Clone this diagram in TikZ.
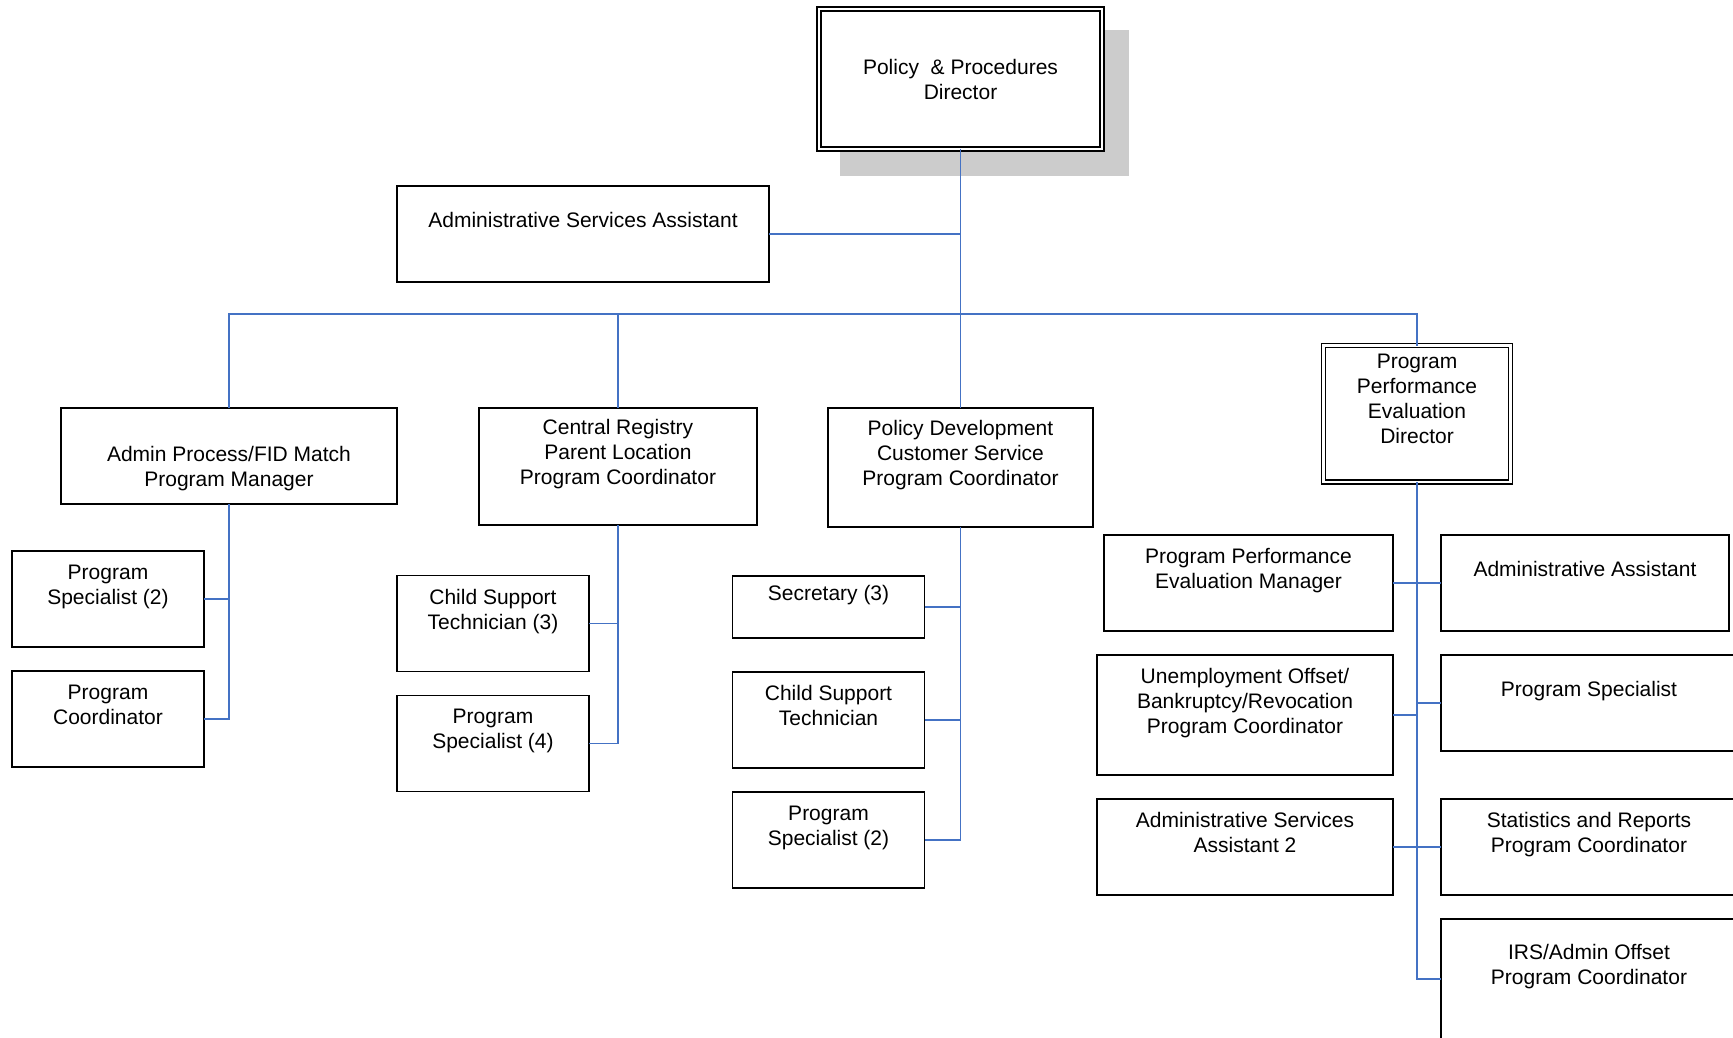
\documentclass[tikz,border=0pt]{standalone}
\usepackage{fontspec}
\setmainfont{Liberation Sans}
\usepackage{tikz}
\usetikzlibrary{positioning, calc, backgrounds}

\definecolor{linkblue}{RGB}{68,114,196}
\definecolor{shadowgray}{RGB}{204,204,204}
\newcommand{\chartfont}{\fontsize{21}{25}\selectfont}

\begin{document}
\begin{tikzpicture}[
      x=1pt, y=-1pt,
      base/.style={rectangle, draw, line width=1.5pt, fill=white, align=center, font=\chartfont,
                   inner sep=4pt, outer sep=0pt, minimum width=192pt, minimum height=96pt},
      box/.style ={base, execute at end node={\rule[-29pt]{0pt}{29pt}}},
      dbl/.style ={double, double distance=2.5pt},
      link/.style={draw=linkblue, line width=1.5pt},
      node distance=24pt and 48pt
    ]
    \useasboundingbox (0,0) rectangle (1733,1037);
    \clip (0,0) rectangle (1733,1037);

    % Ledelse
    \node[base, dbl, minimum width=283pt, minimum height=140pt] (PPD) at (960.5,79) {Policy\ \ \& Procedures\\Director};
    \node[box, minimum width=372pt] (ASA) at (583,234) {Administrative Services Assistant};

    % Andre nivaa
    \node[base, minimum width=336pt]                         (APM) at (229,456)       {\rule{0pt}{40pt}Admin Process/FID Match\\Program Manager};
    \node[box, minimum width=278pt, minimum height=117pt]    (CRP) at (618,466.5)     {Central Registry\\Parent Location\\Program Coordinator};
    \node[box, minimum width=265pt, minimum height=119pt]    (PDC) at (960.5,467.5)   {Policy Development\\Customer Service\\Program Coordinator};
    \node[box, dbl, minimum width=187pt, minimum height=136.5pt] (PED) at (1417,413.75) {Program\\Performance\\Evaluation\\Director};

    % Under Admin Process
    \node[box]                   (PSA) at (108,599) {Program\\Specialist (2)};
    \node[box, below=of PSA]     (PCA)              {Program\\Coordinator};

    % Under Central Registry
    \node[box]                   (CST) at (493,623.5) {Child Support\\Technician (3)};
    \node[box, below=of CST]     (PSB)                {Program\\Specialist (4)};

    % Under Policy Development
    \node[box, minimum height=62pt] (SEC) at (828.5,607) {Secretary (3)};
    \node[box, below=34pt of SEC]   (CSU)                {Child Support\\Technician};
    \node[box, below=of CSU]        (PSC)                {Program\\Specialist (2)};

    % Under Program Performance Evaluation
    \node[box, minimum width=289pt] (PEM) at (1248.5,583) {Program Performance\\Evaluation Manager};
    \node[box, minimum width=296pt, minimum height=120pt, below left=24pt and 0pt of PEM.south east] (UOB)
         {Unemployment Offset/\\Bankruptcy/Revocation\\Program Coordinator};
    \node[box, minimum width=296pt, below=of UOB] (ASB) {Administrative Services\\Assistant 2};

    \node[box, minimum width=288pt, right=of PEM] (AAS) {Administrative Assistant};
    \node[box, minimum width=296pt, below right=24pt and 0pt of AAS.south west] (PSR) {Program Specialist};
    \node[box, minimum width=296pt, below=48pt of PSR] (SRC) {Statistics and Reports\\Program Coordinator};
    \node[box, minimum width=296pt, minimum height=120pt, below=of SRC] (IRS) {IRS/Admin Offset\\Program Coordinator};

    % Skygge bak direktoren
    \begin{scope}[on background layer]
      \fill[shadowgray] ($(PPD.north west)+(21,21)$) rectangle ($(PPD.south east)+(27,27)$);
    \end{scope}

    % Linjer
    \coordinate (BUS) at (960.5,314);
    \draw[link] (PPD) -- (PDC);
    \draw[link] (ASA.east) -- (ASA.east -| PPD.south);
    \draw[link] (APM.north) |- (BUS) -| (PED.north);
    \draw[link] (CRP.north) -- (CRP.north |- BUS);

    \draw[link] (APM.south) |- (PCA.east);
    \draw[link] (PSA.east) -- (PSA.east -| APM.south);

    \draw[link] (CRP.south) |- (PSB.east);
    \draw[link] (CST.east) -- (CST.east -| CRP.south);

    \draw[link] (PDC.south) |- (PSC.east);
    \draw[link] (SEC.east) -- (SEC.east -| PDC.south);
    \draw[link] (CSU.east) -- (CSU.east -| PDC.south);

    \draw[link] (PED.south) |- (IRS.west);
    \draw[link] (PEM) -- (AAS);
    \draw[link] (UOB.east) -- (UOB.east -| PED.south);
    \draw[link] (PSR.west) -- (PSR.west -| PED.south);
    \draw[link] (ASB) -- (SRC);

  \end{tikzpicture}
\end{document}
